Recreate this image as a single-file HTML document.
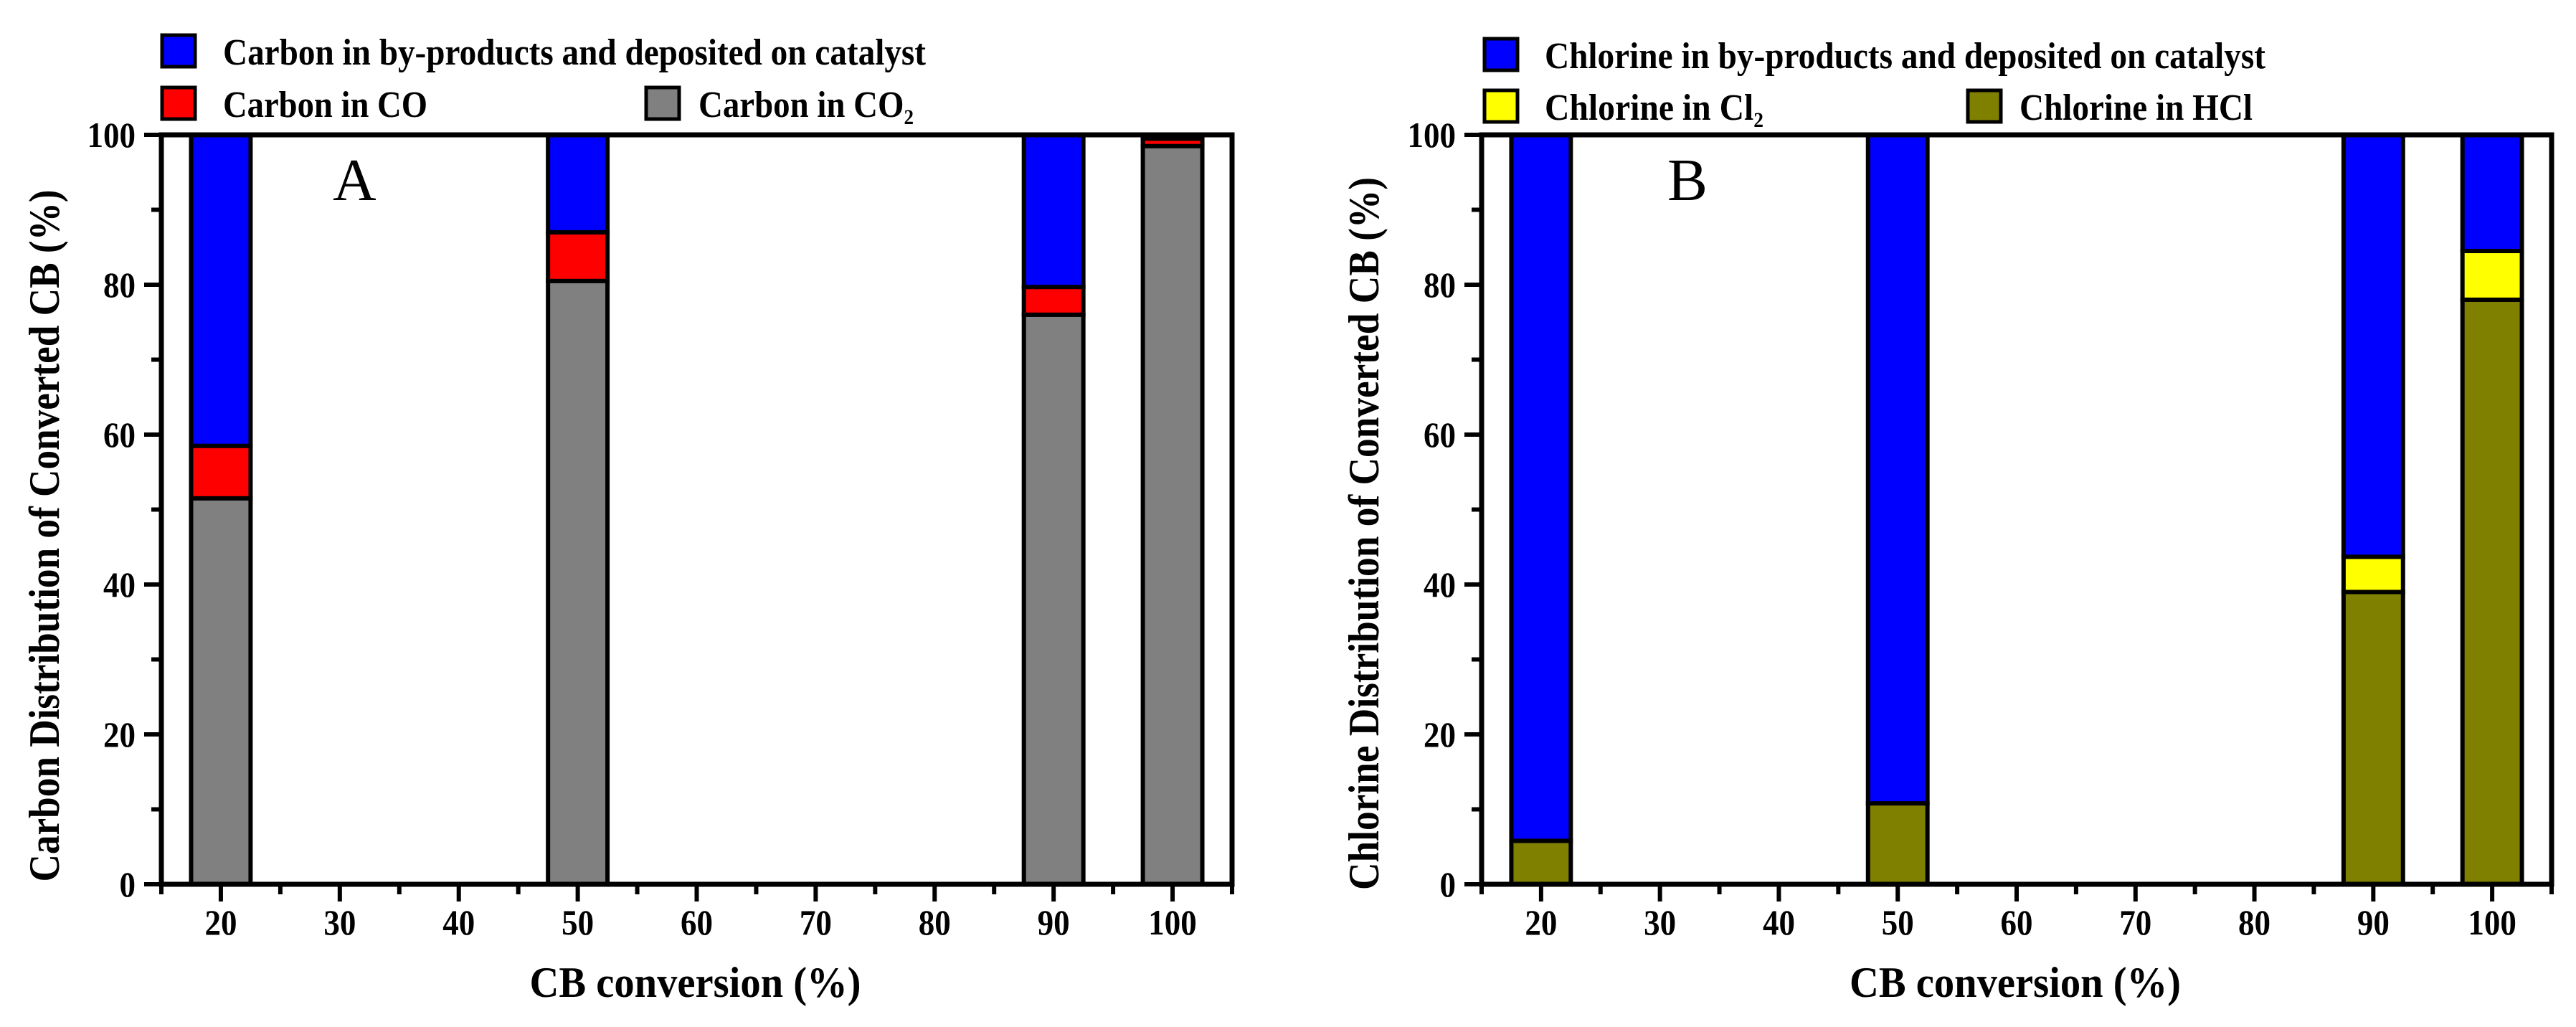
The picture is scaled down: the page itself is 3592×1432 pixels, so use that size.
<!DOCTYPE html>
<html><head><meta charset="utf-8"><style>
html,body{margin:0;padding:0;background:#fff}
svg{display:block}
text{font-family:"Liberation Serif","Times New Roman",serif;font-weight:bold;fill:#000}
</style></head><body>
<svg id="fig" width="3592" height="1432" viewBox="0 0 3592 1432" xmlns="http://www.w3.org/2000/svg"></svg>
<script>
// ---- data ----
const categories = [20, 50, 90, 100];
const carbonCO2 = [51.5, 80.5, 76, 98.5];
const carbonCO = [7, 6.5, 3.7, 1];
const chlorineHCl = [5.8, 10.8, 39, 78];
const chlorineCl2 = [0, 0, 4.7, 6.5];
const xTicks = [20, 30, 40, 50, 60, 70, 80, 90, 100];
const yTicks = [0, 20, 40, 60, 80, 100];

const NS = "http://www.w3.org/2000/svg";
const svg = document.getElementById('fig');
function mk(tag, attrs, parent) {
  const e = document.createElementNS(NS, tag);
  for (const k in attrs) e.setAttribute(k, attrs[k]);
  (parent || svg).appendChild(e);
  return e;
}

function panel(cfg) {
  const g = mk('g', {});
  
  
  const L = cfg.left, R = cfg.right, T = 188, B = 1233;
  const xs = v => L + (v - 15) / 90 * (R - L);
  const ys = v => B - v / 100 * (B - T);
  categories.forEach((c, i) => {
    const bottomVal = cfg.s1[i], midVal = cfg.s2[i];
    const x0 = xs(c - 2.5), w = xs(c + 2.5) - xs(c - 2.5);
    const segs = [
      [0, bottomVal, cfg.c1, 'bottom'],
      [bottomVal, bottomVal + midVal, cfg.c2, 'middle'],
      [bottomVal + midVal, 100, '#0000ff', 'top']
    ];
    segs.forEach(s => {
      if (s[1] - s[0] <= 0) return;
      const r = mk('rect', {x: x0, y: ys(s[1]), width: w, height: ys(s[0]) - ys(s[1]), fill: s[2], stroke: '#000', 'stroke-width': 6}, g);
      
      
    });
  });
  const fr = mk('rect', {x: L, y: T, width: R - L, height: B - T, fill: 'none', stroke: '#000', 'stroke-width': 7}, g);
  
  
  for (let v = 15; v <= 105; v += 5) {
    const major = v % 10 === 0;
    mk('line', {x1: xs(v), x2: xs(v), y1: B, y2: B + (major ? 24 : 14), stroke: '#000', 'stroke-width': 6}, g);
  }
  xTicks.forEach(v => {
    const s = String(v);
    const t = mk('text', {x: xs(v), y: 1303, 'text-anchor': 'middle', 'font-size': 50, textLength: s.length * 22.5, lengthAdjust: 'spacingAndGlyphs'}, g);
    t.textContent = s;
    
    
  });
  for (let v = 0; v <= 100; v += 10) {
    const major = v % 20 === 0;
    mk('line', {x1: L, x2: L - (major ? 24 : 14), y1: ys(v), y2: ys(v), stroke: '#000', 'stroke-width': 6}, g);
  }
  yTicks.forEach(v => {
    const s = String(v);
    const t = mk('text', {x: L - 36, y: ys(v) + 17, 'text-anchor': 'end', 'font-size': 50, textLength: s.length * 22.5, lengthAdjust: 'spacingAndGlyphs'}, g);
    t.textContent = s;
    
    
  });
  const xt = mk('text', {x: (L + R) / 2 - 2, y: 1390, 'text-anchor': 'middle', 'font-size': 60, textLength: 462, lengthAdjust: 'spacingAndGlyphs'}, g);
  xt.textContent = 'CB conversion (%)';
  
  
  const yt = mk('text', {x: 0, y: 0, 'text-anchor': 'middle', 'font-size': 60, transform: 'translate(' + cfg.ytx + ',' + cfg.yty + ') rotate(-90)', textLength: cfg.ytLen, lengthAdjust: 'spacingAndGlyphs'}, g);
  yt.textContent = cfg.ytitle;
  
  
  const pl = mk('text', {x: cfg.lblX, y: 279, 'font-size': 84, style: 'font-weight:normal'}, g);
  pl.textContent = cfg.letter;
  
  
  cfg.legend.forEach(le => {
    const lg = mk('g', {}, g);
    
    
    mk('rect', {x: le.bx, y: le.by, width: 46, height: 44, fill: le.color, stroke: '#000', 'stroke-width': 5}, lg);
    const t = mk('text', {x: le.tx, y: le.by + 41, 'font-size': 52, textLength: le.len, lengthAdjust: 'spacingAndGlyphs'}, lg);
    t.textContent = le.text;
    if (le.sub) {
      const s = mk('tspan', {'font-size': 30, dy: 10}, t);
      s.textContent = le.sub;
    }
  });
}

panel({
  name: 'panel-a-carbon', left: 225, right: 1718, s1: carbonCO2, s2: carbonCO,
  c1: '#808080', c2: '#ff0000', letter: 'A', lblX: 464,
  ytitle: 'Carbon Distribution of Converted CB (%)', ytx: 82, yty: 747, ytLen: 965,
  legend: [
    {bx: 226, by: 49, color: '#0000ff', tx: 311, text: 'Carbon in by-products and deposited on catalyst', len: 980},
    {bx: 226, by: 122, color: '#ff0000', tx: 311, text: 'Carbon in CO', len: 285},
    {bx: 901, by: 122, color: '#808080', tx: 974, text: 'Carbon in CO', sub: '2', len: 300}
  ]
});
panel({
  name: 'panel-b-chlorine', left: 2066, right: 3558, s1: chlorineHCl, s2: chlorineCl2,
  c1: '#808000', c2: '#ffff00', letter: 'B', lblX: 2325,
  ytitle: 'Chlorine Distribution of Converted CB (%)', ytx: 1922, yty: 744, ytLen: 994,
  legend: [
    {bx: 2070, by: 54, color: '#0000ff', tx: 2154, text: 'Chlorine in by-products and deposited on catalyst', len: 1005},
    {bx: 2070, by: 126, color: '#ffff00', tx: 2154, text: 'Chlorine in Cl', sub: '2', len: 305},
    {bx: 2744, by: 126, color: '#808000', tx: 2816, text: 'Chlorine in HCl', len: 325}
  ]
});
</script>
</body></html>
